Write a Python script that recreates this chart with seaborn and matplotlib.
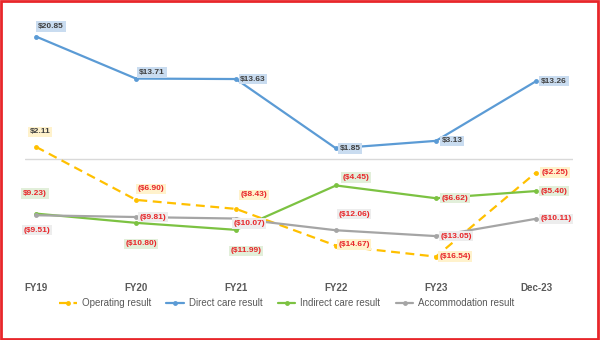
import matplotlib
matplotlib.use("Agg")
import matplotlib.pyplot as plt
import seaborn as sns
import pandas as pd
from matplotlib.patches import Rectangle

periods = ["FY19", "FY20", "FY21", "FY22", "FY23", "Dec-23"]
operating = [2.11, -6.90, -8.43, -14.67, -16.54, -2.25]
direct_care = [20.85, 13.71, 13.63, 1.85, 3.13, 13.26]
indirect_care = [-9.23, -10.80, -11.99, -4.45, -6.62, -5.40]
accommodation = [-9.51, -9.81, -10.07, -12.06, -13.05, -10.11]

series_names = ["Operating result", "Direct care result",
                "Indirect care result", "Accommodation result"]
series_values = [operating, direct_care, indirect_care, accommodation]
line_colors = ["#FFC000", "#5B9BD5", "#7CC242", "#A5A5A5"]
box_colors = ["#FFF2CC", "#C9DCF0", "#E2EFDA", "#EDEDED"]
line_styles = [(0, (4, 2.5)), "-", "-", "-"]

# label offsets (pixels) from each point, per series
label_offsets = [
    [(4, 15), (15, 11), (18, 14), (18, 1), (19, 0), (19, 0)],
    [(15, 10), (16, 6), (17, 0), (14, 0), (16, 0), (18, 0)],
    [(-1, 20), (5, -21), (10, -21), (20, 8), (19, 0), (18, 0)],
    [(1, -15), (17, 0), (13, -5), (18, 16), (20, 0), (20, 0)],
]


def money(v):
    s = f"${abs(v):.2f}"
    return f"({s})" if v < 0 else s


labels = [[money(v) for v in vals] for vals in series_values]
labels[2][0] = "$9.23)"  # label as printed on the FY19 indirect care point

sns.set_theme(style="white")
plt.rcParams["font.family"] = ["Liberation Sans", "DejaVu Sans"]

fig = plt.figure(figsize=(6, 3.4), dpi=100)
ax = fig.add_axes([25 / 600, 1 - 277 / 340, 548 / 600, 259 / 340])

ax.axhline(0, color="#D9D9D9", lw=1, zorder=1)

x = list(range(len(periods)))
for name, vals, col, ls in zip(series_names, series_values, line_colors, line_styles):
    df = pd.DataFrame({"x": x, "y": vals})
    sns.lineplot(data=df, x="x", y="y", ax=ax, color=col, lw=1.6,
                 linestyle=ls, marker="o", markersize=3.5,
                 markeredgewidth=0, label=name, zorder=3)

for k, (vals, bc) in enumerate(zip(series_values, box_colors)):
    for i, v in enumerate(vals):
        dx, dy = label_offsets[k][i]
        ax.annotate(labels[k][i], (i, v), xytext=(dx, dy), textcoords="offset pixels",
                    ha="center", va="center", fontsize=6, fontweight="bold",
                    color="#E8262A" if v < 0 else "#404040",
                    bbox=dict(boxstyle="square,pad=0.2", fc=bc, ec="none"),
                    zorder=5)

ax.set_xlim(-0.11, 5.37)
ax.set_ylim(-20, 24)
ax.set_xticks(x)
ax.set_xticklabels(periods, fontsize=7, fontweight="bold", color="#595959")
ax.tick_params(axis="x", length=0, pad=4)
ax.set_yticks([])
ax.set_xlabel("")
ax.set_ylabel("")
for sp in ax.spines.values():
    sp.set_visible(False)

ax.legend(loc="center", bbox_to_anchor=(0.478, 0.109), bbox_transform=fig.transFigure,
          ncol=4, frameon=False, handlelength=1.8, handletextpad=0.5,
          columnspacing=1.6, prop=dict(size=7),
          labelcolor="#595959")

fig.patches.append(Rectangle((0.0015, 0.003), 0.995, 0.994, transform=fig.transFigure,
                             fill=False, ec="#E8262A", lw=2))

fig.savefig("out.png", dpi=100)
